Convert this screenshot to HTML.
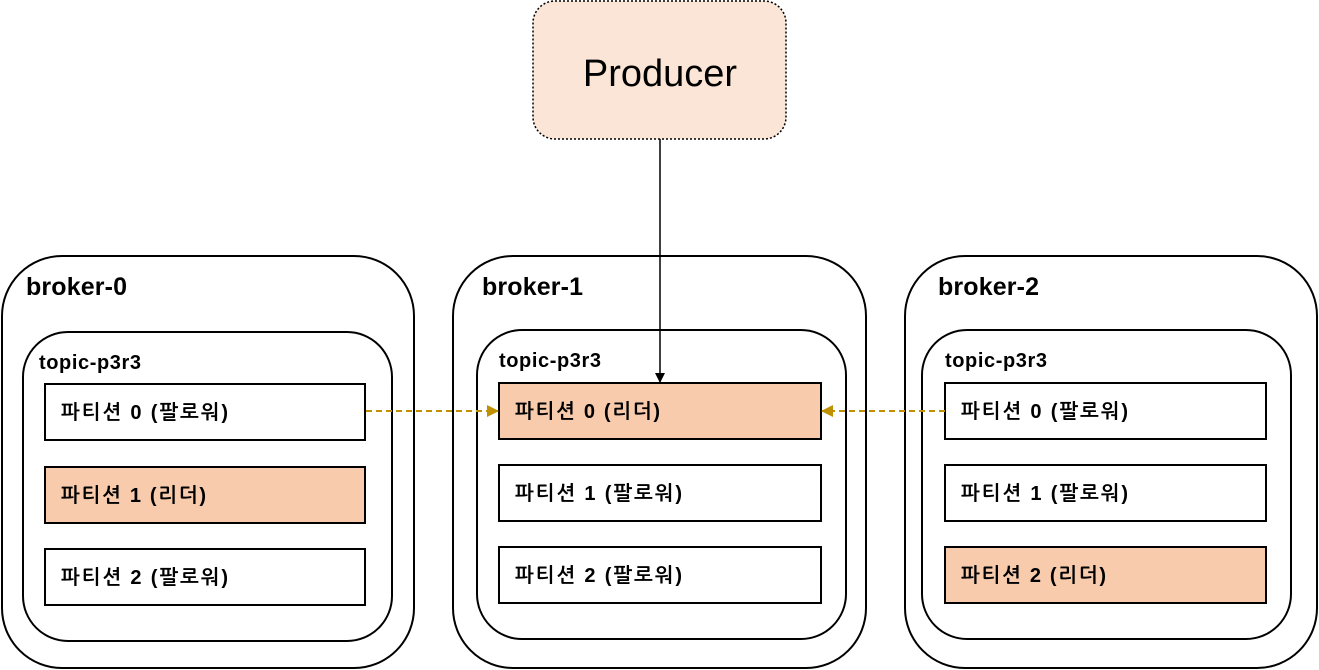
<!DOCTYPE html>
<html><head><meta charset="utf-8"><style>body{margin:0;background:#fff}</style></head><body>
<svg width="1319" height="670" xmlns="http://www.w3.org/2000/svg" style="display:block">
<defs>
<marker id="ab" markerWidth="10" markerHeight="10" refX="9" refY="5" orient="auto" markerUnits="userSpaceOnUse"><path d="M0,0 L10,5 L0,10 z" fill="#000"/></marker>
<marker id="ag" markerWidth="12" markerHeight="12" refX="11" refY="6" orient="auto" markerUnits="userSpaceOnUse"><path d="M0,0 L12,6 L0,12 z" fill="#bf9000"/></marker>
</defs>
<g font-family="'Liberation Sans','NanumGothic','Noto Sans CJK KR',sans-serif" font-weight="bold" fill="#000">
<rect x="533" y="1" width="253" height="138" rx="22" fill="#fbe5d6" stroke="#000" stroke-width="1.5" stroke-dasharray="2,2"/>
<text x="660" y="86" text-anchor="middle" font-size="38" font-weight="normal">Producer</text>

<rect x="2" y="256" width="412" height="412" rx="60" fill="none" stroke="#000" stroke-width="2"/>
<rect x="453" y="256" width="413" height="412" rx="60" fill="none" stroke="#000" stroke-width="2"/>
<rect x="905" y="256" width="412" height="412" rx="60" fill="none" stroke="#000" stroke-width="2"/>
<text x="26" y="295" font-size="25" textLength="101">broker-0</text>
<text x="482" y="295" font-size="25" textLength="101">broker-1</text>
<text x="938" y="295" font-size="25" textLength="101">broker-2</text>

<rect x="23" y="332" width="369" height="309" rx="45" fill="none" stroke="#000" stroke-width="2"/>
<rect x="477" y="330" width="369" height="309" rx="45" fill="none" stroke="#000" stroke-width="2"/>
<rect x="922" y="330" width="369" height="309" rx="45" fill="none" stroke="#000" stroke-width="2"/>
<text x="39" y="369" font-size="20" textLength="102">topic-p3r3</text>
<text x="499" y="367" font-size="20" textLength="102">topic-p3r3</text>
<text x="945" y="367" font-size="20" textLength="102">topic-p3r3</text>

<g stroke="#000" stroke-width="2">
<rect x="45" y="384" width="320" height="56" fill="#fff"/>
<rect x="45" y="467" width="320" height="56" fill="#f8cbad"/>
<rect x="45" y="549" width="320" height="56" fill="#fff"/>
<rect x="499" y="383" width="322" height="56" fill="#f8cbad"/>
<rect x="499" y="465" width="322" height="56" fill="#fff"/>
<rect x="499" y="547" width="322" height="56" fill="#fff"/>
<rect x="945" y="383" width="321" height="56" fill="#fff"/>
<rect x="945" y="465" width="321" height="56" fill="#fff"/>
<rect x="945" y="547" width="321" height="56" fill="#f8cbad"/>
</g>
<g font-size="20">
<text x="61" y="419" textLength="167">파티션 0 (팔로워)</text>
<text x="61" y="502" textLength="145">파티션 1 (리더)</text>
<text x="61" y="584" textLength="167">파티션 2 (팔로워)</text>
<text x="515" y="418" textLength="145">파티션 0 (리더)</text>
<text x="515" y="500" textLength="167">파티션 1 (팔로워)</text>
<text x="515" y="582" textLength="167">파티션 2 (팔로워)</text>
<text x="961" y="418" textLength="167">파티션 0 (팔로워)</text>
<text x="961" y="500" textLength="167">파티션 1 (팔로워)</text>
<text x="961" y="582" textLength="145">파티션 2 (리더)</text>
</g>
<line x1="660" y1="139" x2="660" y2="382" stroke="#000" stroke-width="1.5" marker-end="url(#ab)"/>
<line x1="366" y1="411" x2="498" y2="411" stroke="#bf9000" stroke-width="2" stroke-dasharray="6,4" marker-end="url(#ag)"/>
<line x1="945" y1="411" x2="822" y2="411" stroke="#bf9000" stroke-width="2" stroke-dasharray="6,4" marker-end="url(#ag)"/>
</g>
</svg>
</body></html>
